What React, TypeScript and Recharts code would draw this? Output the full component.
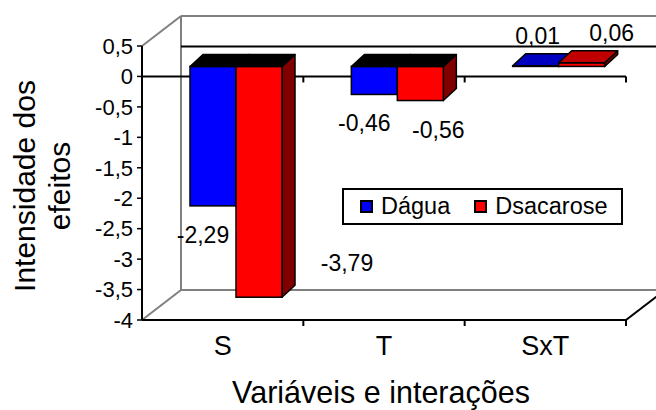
import { BarChart, Bar, XAxis, YAxis, ReferenceArea, Legend } from 'recharts'

const categories = ['S', 'T', 'SxT']
const agua = [-2.29, -0.46, 0.01]
const sacarose = [-3.79, -0.56, 0.06]
const yTicks = [0.5, 0, -0.5, -1, -1.5, -2, -2.5, -3, -3.5, -4]

const data = categories.map((name, i) => ({ name, agua: agua[i], sacarose: sacarose[i] }))

const W = 656
const H = 410
const Y_MIN = -4
const Y_MAX = 0.5
const PLOT = { left: 142, top: 46, right: 626, bottom: 320 }
// box depth for the pseudo-3D walls, bar offset into the box, bar thickness
const DEPTH = { dx: 39, dy: -30 }
const SHIFT = { dx: 13, dy: -10 }
const BAR_DEPTH = { dx: 13, dy: -12 }
const FONT = '"Liberation Sans", Arial, sans-serif'

const fmt = (v: number, digits?: number) =>
  (digits === undefined ? String(v) : v.toFixed(digits)).replace('.', ',')

function BoxShape(props: any) {
  const { x, y, width, height } = props
  const left = x
  const top = y
  const right = x + width
  const bottom = y + height
  const zeroY = top + ((Y_MAX - 0) / (Y_MAX - Y_MIN)) * height
  const farRight = right + DEPTH.dx
  const grey = '#808080'
  const bounds = categories.map((_, i) => left + (width * (i + 1)) / categories.length)
  return (
    <g>
      {/* back wall + floor edges */}
      <line x1={left} y1={top} x2={left + DEPTH.dx} y2={top + DEPTH.dy} stroke={grey} strokeWidth={2} />
      <line x1={left} y1={bottom} x2={left + DEPTH.dx} y2={bottom + DEPTH.dy} stroke={grey} strokeWidth={2} />
      <line x1={left + DEPTH.dx} y1={top + DEPTH.dy} x2={left + DEPTH.dx} y2={bottom + DEPTH.dy} stroke={grey} strokeWidth={2} />
      <line x1={left + DEPTH.dx} y1={top + DEPTH.dy} x2={farRight} y2={top + DEPTH.dy} stroke={grey} strokeWidth={2} />
      <line x1={left + DEPTH.dx} y1={bottom + DEPTH.dy} x2={farRight} y2={bottom + DEPTH.dy} stroke={grey} strokeWidth={2} />
      <line x1={left + DEPTH.dx} y1={zeroY + DEPTH.dy} x2={farRight} y2={zeroY + DEPTH.dy} stroke="#000" strokeWidth={2} />
      {/* front floor edge */}
      <line x1={left} y1={bottom} x2={right} y2={bottom} stroke="#000" strokeWidth={2} />
      <line x1={right} y1={bottom} x2={farRight} y2={bottom + DEPTH.dy} stroke="#000" strokeWidth={2} />
      {/* category axis on the zero plane */}
      <line x1={left} y1={zeroY} x2={right} y2={zeroY} stroke="#000" strokeWidth={2} />
      {bounds.map((bx, i) => (
        <g key={i}>
          <line x1={bx} y1={zeroY} x2={bx} y2={zeroY + 6} stroke="#000" strokeWidth={2} />
          <line x1={bx} y1={bottom} x2={bx} y2={bottom + 6} stroke="#000" strokeWidth={2} />
        </g>
      ))}
    </g>
  )
}

function make3DBar(dataKey: string, front: string, topPos: string, side: string, labelDx: number) {
  return (p: any) => {
    const value: number = p.payload[dataKey]
    const w = p.width
    const fx = p.x + SHIFT.dx
    const y0 = Math.min(p.y, p.y + p.height) + SHIFT.dy
    const y1 = Math.max(p.y, p.y + p.height) + SHIFT.dy
    const bx = BAR_DEPTH.dx
    const by = BAR_DEPTH.dy
    const topFill = value < 0 ? '#000' : topPos

    let lx = fx + w / 2 + labelDx + (value >= 0 ? 12 : 0)
    let ly = value < 0 ? y1 + 29 : y0 - 30
    // labels that would drop under the floor go beside the bar
    if (value < 0 && ly > PLOT.bottom + DEPTH.dy) {
      lx = fx + w + 65
      ly = y1 - 34
    }

    return (
      <g>
        <polygon
          points={`${fx + w},${y0} ${fx + w + bx},${y0 + by} ${fx + w + bx},${y1 + by} ${fx + w},${y1}`}
          fill={side} stroke="#000" strokeWidth={1.5} strokeLinejoin="round"
        />
        <rect x={fx} y={y0} width={w} height={y1 - y0} fill={front} stroke="#000" strokeWidth={1.5} />
        <polygon
          points={`${fx},${y0} ${fx + bx},${y0 + by} ${fx + w + bx},${y0 + by} ${fx + w},${y0}`}
          fill={topFill} stroke="#000" strokeWidth={1.5} strokeLinejoin="round"
        />
        <text x={lx} y={ly + 8} textAnchor="middle" fontSize={23} fill="#000" fontFamily={FONT}>
          {fmt(value, 2)}
        </text>
      </g>
    )
  }
}

function CategoryTick(props: any) {
  const { x, payload } = props
  return (
    <text x={x} y={PLOT.bottom + 35} textAnchor="middle" fontSize={27} fill="#000" fontFamily={FONT}>
      {payload.value}
    </text>
  )
}

function YTitle() {
  const cy = 186
  return (
    <g fontSize={30} fill="#000" fontFamily={FONT} textAnchor="middle">
      <text x={35} y={cy} transform={`rotate(-90, 35, ${cy})`}>Intensidade dos</text>
      <text x={70} y={cy} transform={`rotate(-90, 70, ${cy})`}>efeitos</text>
    </g>
  )
}

function XTitle() {
  return (
    <text x={(PLOT.left + PLOT.right) / 2 - 3} y={403} textAnchor="middle" fontSize={30.5} fill="#000" fontFamily={FONT}>
      Variáveis e interações
    </text>
  )
}

const swatch = (color: string) => ({
  display: 'inline-block',
  boxSizing: 'border-box' as const,
  width: 13,
  height: 13,
  background: color,
  border: '2px solid #000',
})

function LegendBox() {
  return (
    <div
      style={{
        boxSizing: 'border-box',
        width: '100%',
        height: '100%',
        border: '2px solid #000',
        background: '#fff',
        display: 'flex',
        alignItems: 'center',
        fontFamily: FONT,
        fontSize: 23.5,
        color: '#000',
        paddingLeft: 16,
      }}
    >
      <span style={swatch('#0000ff')} />
      <span style={{ marginLeft: 8 }}>Dágua</span>
      <span style={{ ...swatch('#ff0000'), marginLeft: 24 }} />
      <span style={{ marginLeft: 8 }}>Dsacarose</span>
    </div>
  )
}

export default function App() {
  return (
    <div style={{ position: 'fixed', left: 0, top: 0, background: '#fff' }}>
      <BarChart
        width={W}
        height={H}
        data={data}
        margin={{ top: PLOT.top, right: W - PLOT.right, left: 0, bottom: 0 }}
        barGap={0}
        barSize={46}
        style={{ fontFamily: FONT }}
      >
        <ReferenceArea y1={Y_MIN} y2={Y_MAX} shape={BoxShape} ifOverflow="visible" />
        <XAxis
          dataKey="name"
          height={H - PLOT.bottom}
          axisLine={false}
          tickLine={false}
          tick={CategoryTick}
          label={<XTitle />}
        />
        <YAxis
          width={PLOT.left}
          domain={[Y_MIN, Y_MAX]}
          ticks={yTicks}
          interval={0}
          axisLine={{ stroke: '#000', strokeWidth: 2 }}
          tickLine={{ stroke: '#000', strokeWidth: 1.5 }}
          tickSize={5}
          tickMargin={4}
          tick={{ fontSize: 22, fill: '#000', fontFamily: FONT }}
          tickFormatter={(v: number) => fmt(v)}
          label={<YTitle />}
        />
        <Legend
          layout="horizontal"
          verticalAlign="middle"
          align="center"
          wrapperStyle={{ left: 342, top: 188, width: 281, height: 37 }}
          content={() => <LegendBox />}
        />
        <Bar dataKey="agua" name="Dágua" fill="#0000ff" isAnimationActive={false}
          shape={make3DBar('agua', '#0000ff', '#0000c0', '#000080', -10)} />
        <Bar dataKey="sacarose" name="Dsacarose" fill="#ff0000" isAnimationActive={false}
          shape={make3DBar('sacarose', '#ff0000', '#c00000', '#800000', 18)} />
      </BarChart>
    </div>
  )
}
